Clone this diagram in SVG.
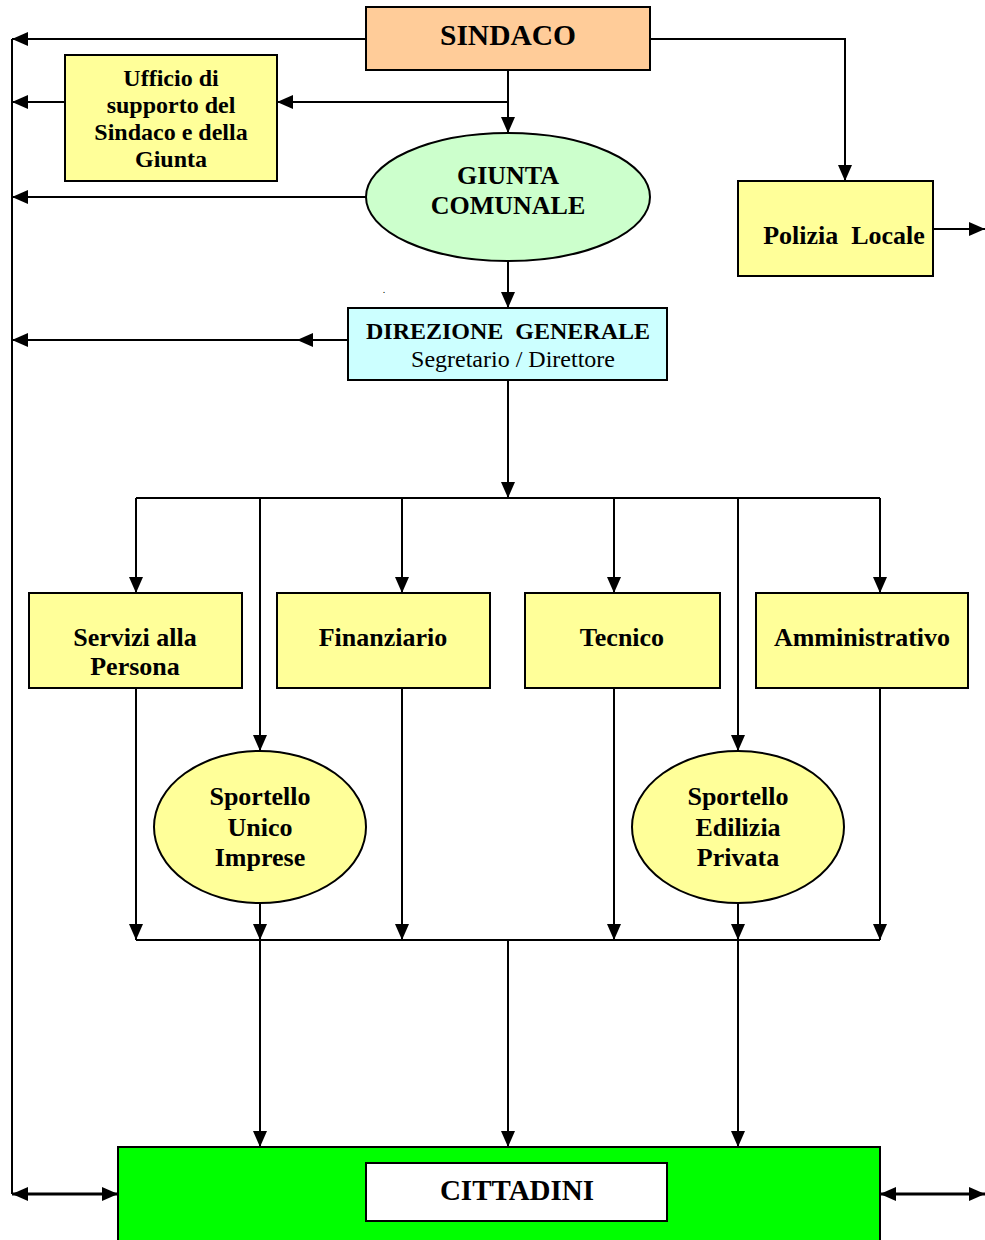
<svg xmlns="http://www.w3.org/2000/svg" width="985" height="1240" viewBox="0 0 985 1240">
<style>
text{font-family:"Liberation Serif","Times New Roman",serif;font-weight:bold;fill:#000;text-anchor:middle}
text.n{font-weight:normal}
.box{stroke:#000;stroke-width:2}
.y{fill:#FFFF99}
.c{fill:none;stroke:#000;stroke-width:2}
.a{marker-end:url(#ah)}
.t26{font-size:26px}
.t24{font-size:24px}
</style>
<defs>
<marker id="ah" markerUnits="userSpaceOnUse" markerWidth="16" markerHeight="14" refX="16" refY="7" orient="auto-start-reverse" viewBox="0 0 16 14">
<path d="M0,0 L16,7 L0,14 z" fill="#000"/>
</marker>
</defs>
<rect width="985" height="1240" fill="#fff"/>

<g id="connectors">
<line class="c" x1="12" y1="39" x2="12" y2="1194"/>
<line class="c a" x1="366" y1="39" x2="12" y2="39"/>
<polyline class="c a" points="650,39 845,39 845,181"/>
<line class="c a" x1="65" y1="102" x2="12" y2="102"/>
<line class="c a" x1="508" y1="102" x2="277" y2="102"/>
<line class="c a" x1="508" y1="70" x2="508" y2="133"/>
<line class="c a" x1="366" y1="197" x2="12" y2="197"/>
<line class="c a" x1="508" y1="261" x2="508" y2="308"/>
<line class="c a" x1="933" y1="229" x2="985" y2="229"/>
<line class="c a" x1="348" y1="340" x2="297" y2="340"/>
<line class="c a" x1="297" y1="340" x2="12" y2="340"/>
<line class="c a" x1="508" y1="380" x2="508" y2="498"/>
<line class="c" x1="136" y1="498" x2="880" y2="498"/>
<line class="c a" x1="136" y1="498" x2="136" y2="593"/>
<line class="c a" x1="260" y1="498" x2="260" y2="751"/>
<line class="c a" x1="402" y1="498" x2="402" y2="593"/>
<line class="c a" x1="614" y1="498" x2="614" y2="593"/>
<line class="c a" x1="738" y1="498" x2="738" y2="751"/>
<line class="c a" x1="880" y1="498" x2="880" y2="593"/>
<line class="c a" x1="136" y1="688" x2="136" y2="940"/>
<line class="c a" x1="260" y1="903" x2="260" y2="940"/>
<line class="c a" x1="402" y1="688" x2="402" y2="940"/>
<line class="c a" x1="614" y1="688" x2="614" y2="940"/>
<line class="c a" x1="738" y1="903" x2="738" y2="940"/>
<line class="c a" x1="880" y1="688" x2="880" y2="940"/>
<line class="c" x1="136" y1="940" x2="880" y2="940"/>
<line class="c a" x1="260" y1="940" x2="260" y2="1147"/>
<line class="c a" x1="508" y1="940" x2="508" y2="1147"/>
<line class="c a" x1="738" y1="940" x2="738" y2="1147"/>
<line class="c a" x1="12" y1="1194" x2="118" y2="1194" style="marker-start:url(#ah);stroke-width:3"/>
<line class="c a" x1="880" y1="1194" x2="985" y2="1194" style="marker-start:url(#ah);stroke-width:3"/>
</g>

<g id="sindaco">
<rect class="box" x="366" y="7" width="284" height="63" fill="#FFCC99"/>
<text x="508" y="45" font-size="29.5">SINDACO</text>
</g>

<g id="ufficio">
<rect class="box y" x="65" y="55" width="212" height="126"/>
<text class="t24" x="171" y="86">Ufficio di</text>
<text class="t24" x="171" y="113">supporto del</text>
<text class="t24" x="171" y="140">Sindaco e della</text>
<text class="t24" x="171" y="167">Giunta</text>
</g>

<g id="giunta">
<ellipse class="box" cx="508" cy="197" rx="142" ry="64" fill="#CCFFCC"/>
<text class="t26" x="508" y="184">GIUNTA</text>
<text class="t26" x="508" y="214">COMUNALE</text>
</g>

<g id="polizia">
<rect class="box y" x="738" y="181" width="195" height="95"/>
<text class="t26" x="844" y="244" xml:space="preserve">Polizia  Locale</text>
</g>

<text class="n" x="384" y="293" font-size="10">.</text>

<g id="direzione">
<rect class="box" x="348" y="308" width="319" height="72" fill="#CCFFFF"/>
<text class="t24" x="508" y="339" xml:space="preserve">DIREZIONE  GENERALE</text>
<text class="t24 n" x="513" y="367">Segretario / Direttore</text>
</g>

<g id="servizi">
<rect class="box y" x="29" y="593" width="213" height="95"/>
<text class="t26" x="135" y="646">Servizi alla</text>
<text class="t26" x="135" y="675">Persona</text>
</g>

<g id="finanziario">
<rect class="box y" x="277" y="593" width="213" height="95"/>
<text class="t26" x="383" y="646">Finanziario</text>
</g>

<g id="tecnico">
<rect class="box y" x="525" y="593" width="195" height="95"/>
<text class="t26" x="622" y="646">Tecnico</text>
</g>

<g id="amministrativo">
<rect class="box y" x="756" y="593" width="212" height="95"/>
<text class="t26" x="862" y="646">Amministrativo</text>
</g>

<g id="sportello-unico">
<ellipse class="box y" cx="260" cy="827" rx="106" ry="76"/>
<text class="t26" x="260" y="805">Sportello</text>
<text class="t26" x="260" y="836">Unico</text>
<text class="t26" x="260" y="866">Imprese</text>
</g>

<g id="sportello-edilizia">
<ellipse class="box y" cx="738" cy="827" rx="106" ry="76"/>
<text class="t26" x="738" y="805">Sportello</text>
<text class="t26" x="738" y="836">Edilizia</text>
<text class="t26" x="738" y="866">Privata</text>
</g>

<g id="cittadini">
<rect class="box" x="118" y="1147" width="762" height="100" fill="#00FF00"/>
<rect class="box" x="366" y="1163" width="301" height="58" fill="#fff"/>
<text x="517" y="1200" font-size="29">CITTADINI</text>
</g>
</svg>
